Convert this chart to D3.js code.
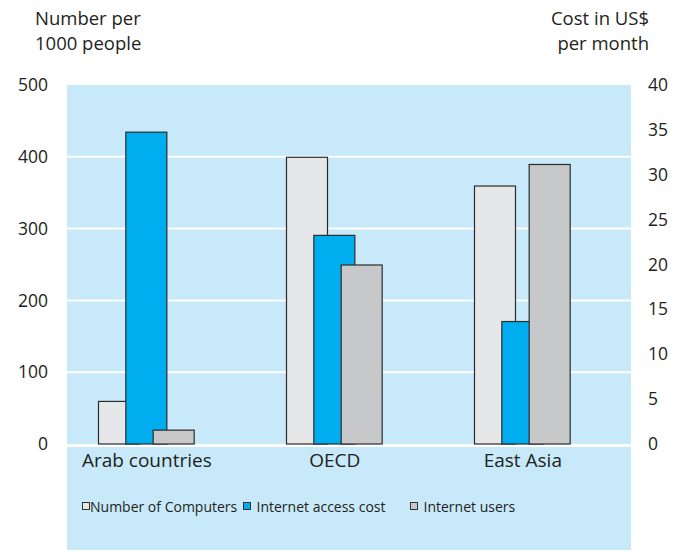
<!DOCTYPE html>
<html>
<head>
<meta charset="utf-8">
<script src="https://cdn.jsdelivr.net/npm/d3@7"></script>
<style>
  html, body { margin: 0; padding: 0; background: #ffffff; }
  svg { display: block; }
  text { font-family: "Open Sans", "Noto Sans", sans-serif; fill: #231f20; }
</style>
</head>
<body>
<svg id="chart" width="677" height="552"></svg>
<script>
// ---- data ----
const categories = ["Arab countries", "OECD", "East Asia"];
const seriesNames = ["Number of Computers", "Internet access cost", "Internet users"];
const computers = [60, 400, 360];          // per 1000 people (left axis)
const accessCost = [34.8, 23.3, 13.7];     // US$ per month (right axis)
const users = [20, 250, 390];              // per 1000 people (left axis)
const leftTicks = [0, 100, 200, 300, 400, 500];
const rightTicks = [0, 5, 10, 15, 20, 25, 30, 35, 40];
const leftTitle = ["Number per", "1000 people"];
const rightTitle = ["Cost in US$", "per month"];

// ---- layout ----
const svg = d3.select("#chart");
const panel = { x0: 67, x1: 631, y0: 85, y1: 550 };
const baseY = 444;
const colors = ["#e6e7e8", "#00aeef", "#c7c8ca"];

const yLeft = d3.scaleLinear().domain([0, 500]).range([baseY, panel.y0]);
const yRight = d3.scaleLinear().domain([0, 40]).range([baseY, panel.y0]);
const x0 = d3.scaleBand().domain(categories).range([panel.x0, panel.x1]).paddingInner(0).paddingOuter(0);
const groupOffset = 31;
const x1 = d3.scaleBand().domain(seriesNames).range([0, 82]);
const barW = 41;
const groupW = x1(seriesNames[2]) + barW;

// panel background
svg.append("rect")
  .attr("x", panel.x0).attr("y", panel.y0)
  .attr("width", panel.x1 - panel.x0).attr("height", panel.y1 - panel.y0)
  .attr("fill", "#c7e9f9");

// gridlines
svg.append("g").selectAll("line")
  .data(leftTicks.filter(t => t > 0 && t < 500))
  .join("line")
  .attr("x1", panel.x0).attr("x2", panel.x1)
  .attr("y1", d => yLeft(d)).attr("y2", d => yLeft(d))
  .attr("stroke", "#ffffff").attr("stroke-width", 2);
svg.append("line")
  .attr("x1", panel.x0).attr("x2", panel.x1)
  .attr("y1", baseY + 1.5).attr("y2", baseY + 1.5)
  .attr("stroke", "#ffffff").attr("stroke-width", 3);

// bars
const barData = [];
categories.forEach((c, i) => {
  barData.push({ cat: c, s: seriesNames[0], y: yLeft(computers[i]), k: 0 });
  barData.push({ cat: c, s: seriesNames[1], y: yRight(accessCost[i]), k: 1 });
  barData.push({ cat: c, s: seriesNames[2], y: yLeft(users[i]), k: 2 });
});
const barsG = svg.append("g");
barData.forEach(d => {
  barsG.append("rect")
    .attr("x", x0(d.cat) + groupOffset + x1(d.s) + 0.5)
    .attr("y", d.y + 0.5)
    .attr("width", barW)
    .attr("height", baseY - d.y - 0.5)
    .attr("fill", colors[d.k])
    .attr("stroke", "#2b2b2b")
    .attr("stroke-width", 1.2);
});

// category labels
svg.append("g").selectAll("text")
  .data(categories)
  .join("text")
  .attr("x", d => x0(d) + groupOffset + groupW / 2 + 1)
  .attr("y", 467)
  .attr("text-anchor", "middle")
  .attr("font-size", 19)
  .text(d => d);

// left axis
const leftAxis = d3.axisLeft(yLeft).tickValues(leftTicks).tickSize(0).tickPadding(0);
const gl = svg.append("g").attr("transform", "translate(48,0)").call(leftAxis);
gl.select(".domain").remove();
gl.selectAll("text").attr("font-size", 17.5).attr("fill", "#231f20")
  .attr("font-family", "Open Sans, Noto Sans, sans-serif");

// right axis
const rightAxis = d3.axisRight(yRight).tickValues(rightTicks).tickSize(0).tickPadding(0);
const gr = svg.append("g").attr("transform", "translate(648,0)").call(rightAxis);
gr.select(".domain").remove();
gr.selectAll("text").attr("font-size", 17.5).attr("fill", "#231f20")
  .attr("font-family", "Open Sans, Noto Sans, sans-serif");

// axis titles
svg.append("g").selectAll("text").data(leftTitle).join("text")
  .attr("x", 35).attr("y", (d, i) => 25 + i * 25)
  .attr("font-size", 18.5).text(d => d);
svg.append("g").selectAll("text").data(rightTitle).join("text")
  .attr("x", 649).attr("y", (d, i) => 25 + i * 25)
  .attr("text-anchor", "end")
  .attr("font-size", 18.5).text(d => d);

// legend
const legendX = [82, 243, 410];
const lg = svg.append("g");
seriesNames.forEach((s, i) => {
  lg.append("rect")
    .attr("x", legendX[i] + 0.5).attr("y", 502.5)
    .attr("width", 7).attr("height", 7)
    .attr("fill", colors[i]).attr("stroke", "#333333").attr("stroke-width", 1);
  lg.append("text")
    .attr("x", legendX[i] + (i === 0 ? 8 : 13.5)).attr("y", 512)
    .attr("font-size", 14).text(s);
});
</script>
</body>
</html>
